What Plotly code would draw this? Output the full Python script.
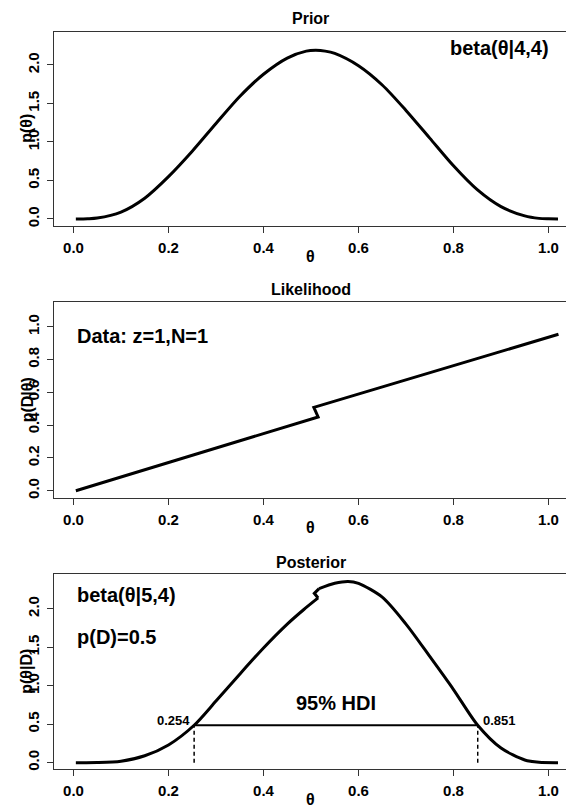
import plotly.graph_objects as go

# ---------------- data ----------------
x_tick_vals = [0.0, 0.2, 0.4, 0.6, 0.8, 1.0]
x_tick_text = ["0.0", "0.2", "0.4", "0.6", "0.8", "1.0"]
dens_tick_vals = [0.0, 0.5, 1.0, 1.5, 2.0]
dens_tick_text = ["0.0", "0.5", "1.0", "1.5", "2.0"]
lik_tick_vals = [0.0, 0.2, 0.4, 0.6, 0.8, 1.0]
lik_tick_text = ["0.0", "0.2", "0.4", "0.6", "0.8", "1.0"]

prior_theta = [0.005, 0.03, 0.05, 0.1, 0.15, 0.2, 0.25, 0.3, 0.35, 0.4, 0.45, 0.49,
               0.51, 0.53, 0.55, 0.6, 0.65, 0.7, 0.75, 0.8, 0.85, 0.9, 0.95, 0.98, 1.0, 1.02]
prior_dens = [0.0, 0.003, 0.012, 0.09, 0.27, 0.55, 0.88, 1.24, 1.59, 1.88, 2.09, 2.18,
              2.19, 2.18, 2.15, 1.99, 1.74, 1.41, 1.05, 0.69, 0.38, 0.16, 0.04, 0.008, 0.002, 0.0]

lik_theta = [0.005, 0.515, 0.506, 1.021]
lik_value = [0.0, 0.45, 0.508, 0.954]

post_theta_left = [0.005, 0.05, 0.1, 0.15, 0.2, 0.254, 0.3, 0.35, 0.4, 0.45, 0.485, 0.515]
post_dens_left = [0.0, 0.002, 0.02, 0.09, 0.23, 0.486, 0.80, 1.15, 1.49, 1.80, 1.99, 2.14]
post_theta_step = [0.515, 0.507, 0.517]
post_dens_step = [2.14, 2.20, 2.26]
post_theta_right = [0.517, 0.55, 0.578, 0.6, 0.65, 0.7, 0.75, 0.8, 0.851, 0.9, 0.95, 0.98, 1.02]
post_dens_right = [2.26, 2.33, 2.355, 2.33, 2.15, 1.80, 1.38, 0.95, 0.486, 0.19, 0.035, 0.005, 0.0]

hdi_low = 0.254
hdi_high = 0.851
hdi_height = 0.486
hdi_labels = ["0.254", "0.851"]

# ---------------- layout helpers ----------------
W, H = 566, 806
FONT = "Liberation Sans"


def py(p):
    return 1 - p / H


fig = go.Figure()

line_style = dict(color="black", width=3)

fig.add_trace(go.Scatter(x=prior_theta, y=prior_dens, mode="lines",
                         line=dict(shape="spline", smoothing=0.8, **line_style),
                         xaxis="x", yaxis="y", showlegend=False))
fig.add_trace(go.Scatter(x=lik_theta, y=lik_value, mode="lines",
                         line=line_style, xaxis="x2", yaxis="y2", showlegend=False))
fig.add_trace(go.Scatter(x=post_theta_left, y=post_dens_left, mode="lines",
                         line=dict(shape="spline", smoothing=0.8, **line_style),
                         xaxis="x3", yaxis="y3", showlegend=False))
fig.add_trace(go.Scatter(x=post_theta_step, y=post_dens_step, mode="lines",
                         line=line_style, xaxis="x3", yaxis="y3", showlegend=False))
fig.add_trace(go.Scatter(x=post_theta_right, y=post_dens_right, mode="lines",
                         line=dict(shape="spline", smoothing=0.8, **line_style),
                         xaxis="x3", yaxis="y3", showlegend=False))
# HDI line
fig.add_trace(go.Scatter(x=[hdi_low, hdi_high], y=[hdi_height, hdi_height], mode="lines",
                         line=dict(color="black", width=2), xaxis="x3", yaxis="y3",
                         showlegend=False))
for xv in (hdi_low, hdi_high):
    fig.add_trace(go.Scatter(x=[xv, xv], y=[0.0, hdi_height], mode="lines",
                             line=dict(color="black", width=1.5, dash="4px,3px"),
                             xaxis="x3", yaxis="y3", showlegend=False))

x_dom = [54 / W, 1.0]
x_rng = [-0.041, (566 - 73.5) / 475]

panels = [  # (top px, bottom px, yrange, tickvals, ticktext)
    (31.7, 226.0, [-0.091, 2.432], dens_tick_vals, dens_tick_text),
    (302.3, 498.3, [-0.046, 1.149], lik_tick_vals, lik_tick_text),
    (574.3, 769.3, [-0.086, 2.447], dens_tick_vals, dens_tick_text),
]

axis_common = dict(showline=True, linecolor="#333333", linewidth=1, showgrid=False,
                   zeroline=False, ticks="outside", ticklen=6, tickwidth=1,
                   tickcolor="#333333", automargin=False,
                   tickfont=dict(family=FONT, size=15, color="black", weight="bold"))

layout_axes = {}
for i, (top, bot, yr, tv, tt) in enumerate(panels):
    s = "" if i == 0 else str(i + 1)
    layout_axes["xaxis" + s] = dict(domain=x_dom, range=x_rng, mirror=True,
                                    tickvals=x_tick_vals, ticktext=x_tick_text,
                                    anchor="y" + s, ticklabelstandoff=2, **axis_common)
    layout_axes["yaxis" + s] = dict(domain=[py(bot), py(top)], range=yr,
                                    tickvals=tv, ticktext=tt, tickangle=-90,
                                    anchor="x" + s, ticklabelstandoff=2, **axis_common)

fig.update_layout(width=W, height=H, margin=dict(l=0, r=0, t=0, b=0, autoexpand=False),
                  paper_bgcolor="white", plot_bgcolor="white", **layout_axes)

ann = []
bold = lambda size: dict(family=FONT, size=size, color="black", weight="bold")

titles = ["Prior", "Likelihood", "Posterior"]
title_y = [19, 289, 562]
xlab_y = [256, 527, 799]
ylabels = ["p(θ)", "p(D|θ)", "p(θ|D)"]
for i, (top, bot, yr, tv, tt) in enumerate(panels):
    s = "" if i == 0 else str(i + 1)
    ann.append(dict(text=titles[i], x=0.50, xref="x" + s, y=py(title_y[i]), yref="paper",
                    showarrow=False, font=bold(16), xanchor="center", yanchor="middle"))
    ann.append(dict(text="θ", x=0.50, xref="x" + s, y=py(xlab_y[i]), yref="paper",
                    showarrow=False, font=bold(16), xanchor="center", yanchor="middle"))
    ann.append(dict(text=ylabels[i], x=27 / W, xref="paper", y=py((top + bot) / 2),
                    yref="paper", showarrow=False, font=bold(16), textangle=-90,
                    xanchor="center", yanchor="middle"))

ann.append(dict(text="beta(θ|4,4)", x=551 / W, xref="paper", y=py(48), yref="paper",
                showarrow=False, font=bold(20), xanchor="right", yanchor="middle"))
ann.append(dict(text="Data: z=1,N=1", x=75 / W, xref="paper", y=py(336), yref="paper",
                showarrow=False, font=bold(20), xanchor="left", yanchor="middle"))
ann.append(dict(text="beta(θ|5,4)", x=75 / W, xref="paper", y=py(595), yref="paper",
                showarrow=False, font=bold(20), xanchor="left", yanchor="middle"))
ann.append(dict(text="p(D)=0.5", x=75 / W, xref="paper", y=py(637), yref="paper",
                showarrow=False, font=bold(20), xanchor="left", yanchor="middle"))
ann.append(dict(text="95% HDI", x=(hdi_low + hdi_high) / 2, xref="x3", y=py(703),
                yref="paper", showarrow=False, font=bold(20), xanchor="center",
                yanchor="middle"))
ann.append(dict(text=hdi_labels[0], x=hdi_low, xref="x3", y=hdi_height, yref="y3",
                showarrow=False, font=bold(13), xanchor="right", yanchor="middle",
                xshift=-2, yshift=5))
ann.append(dict(text=hdi_labels[1], x=hdi_high, xref="x3", y=hdi_height, yref="y3",
                showarrow=False, font=bold(13), xanchor="left", yanchor="middle",
                xshift=3, yshift=5))

fig.update_layout(annotations=ann)
fig.write_html("out.html", config={"displayModeBar": False},
               post_script="document.body.style.margin='0';"
                           "document.body.style.overflow='hidden';")
